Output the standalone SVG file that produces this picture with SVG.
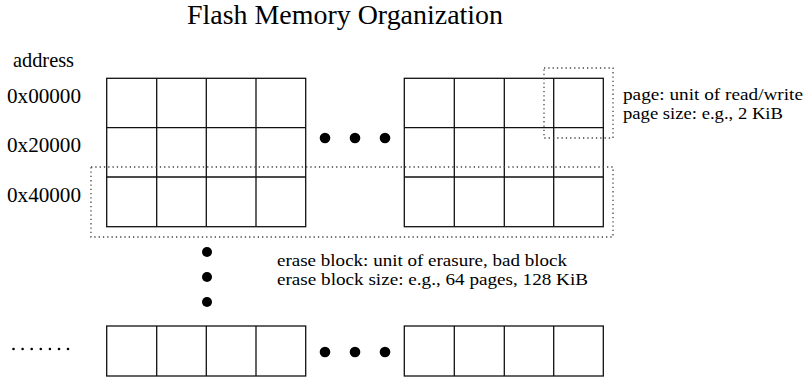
<svg xmlns="http://www.w3.org/2000/svg" width="811" height="377" viewBox="0 0 811 377">
  <style>
    text { font-family: "Liberation Serif", "Times New Roman", serif; fill: #000; }
    .title { font-size: 27px; }
    .addr { font-size: 21px; }
    .note { font-size: 17px; }
    .cell { fill: #fff; stroke: #111; stroke-width: 1.3; }
    .grid { fill: none; stroke: #111; stroke-width: 1.3; }
    .region { fill: none; stroke: #444; stroke-width: 1.3; stroke-dasharray: 1.3 3; }
    .dot { fill: #000; }
  </style>

  <text class="title" x="187" y="24" textLength="316" lengthAdjust="spacingAndGlyphs">Flash Memory Organization</text>

  <!-- address column -->
  <g id="addresses">
    <text class="addr" x="13" y="67" textLength="61" lengthAdjust="spacingAndGlyphs">address</text>
    <text class="addr" x="7" y="103" textLength="74" lengthAdjust="spacingAndGlyphs">0x00000</text>
    <text class="addr" x="7" y="152" textLength="74" lengthAdjust="spacingAndGlyphs">0x20000</text>
    <text class="addr" x="7" y="202" textLength="74" lengthAdjust="spacingAndGlyphs">0x40000</text>
  </g>

  <!-- first erase blocks, left part (3 rows x 4 pages) -->
  <g id="block-left">
    <rect class="cell" x="106.7" y="78.3" width="199" height="148.4"/>
    <path class="grid" d="M156.7 78.3V226.7M206.3 78.3V226.7M256 78.3V226.7M106.7 127.7H305.7M106.7 177H305.7"/>
  </g>

  <!-- first erase blocks, right part -->
  <g id="block-right">
    <rect class="cell" x="404.3" y="78.3" width="199" height="148.4"/>
    <path class="grid" d="M454.3 78.3V226.7M504.3 78.3V226.7M553.7 78.3V226.7M404.3 127.7H603.3M404.3 177H603.3"/>
  </g>

  <!-- last erase block row -->
  <g id="block-last-left">
    <rect class="cell" x="106.7" y="326" width="199" height="50"/>
    <path class="grid" d="M156.7 326V376M206.3 326V376M256 326V376"/>
  </g>
  <g id="block-last-right">
    <rect class="cell" x="404.3" y="326" width="199" height="50"/>
    <path class="grid" d="M454.3 326V376M504.3 326V376M553.7 326V376"/>
  </g>

  <!-- dotted outlines marking a page and an erase block -->
  <g id="page-outline">
    <rect class="region" x="544" y="68" width="69" height="70"/>
  </g>
  <g id="erase-block-outline">
    <rect class="region" x="91" y="167" width="522" height="70"/>
  </g>

  <!-- ellipsis marks -->
  <g id="ellipses">
    <circle class="dot" cx="325" cy="138" r="5.3"/>
    <circle class="dot" cx="355" cy="138" r="5.3"/>
    <circle class="dot" cx="385" cy="138" r="5.3"/>
    <circle class="dot" cx="207" cy="252" r="5"/>
    <circle class="dot" cx="207" cy="277" r="5"/>
    <circle class="dot" cx="207" cy="302" r="5"/>
    <circle class="dot" cx="325" cy="352" r="5.3"/>
    <circle class="dot" cx="355" cy="352" r="5.3"/>
    <circle class="dot" cx="385" cy="352" r="5.3"/>
    <circle class="dot" cx="13.5" cy="349" r="1.3"/>
    <circle class="dot" cx="22.6" cy="349" r="1.3"/>
    <circle class="dot" cx="31.7" cy="349" r="1.3"/>
    <circle class="dot" cx="40.8" cy="349" r="1.3"/>
    <circle class="dot" cx="49.9" cy="349" r="1.3"/>
    <circle class="dot" cx="59" cy="349" r="1.3"/>
    <circle class="dot" cx="68" cy="349" r="1.3"/>
  </g>

  <!-- notes -->
  <g id="page-note">
    <text class="note" x="623" y="100" textLength="180" lengthAdjust="spacingAndGlyphs">page: unit of read/write</text>
    <text class="note" x="623" y="118.5" textLength="160" lengthAdjust="spacingAndGlyphs">page size: e.g., 2 KiB</text>
  </g>
  <g id="erase-note">
    <text class="note" x="277" y="266" textLength="290" lengthAdjust="spacingAndGlyphs">erase block: unit of erasure, bad block</text>
    <text class="note" x="277" y="285" textLength="311" lengthAdjust="spacingAndGlyphs">erase block size: e.g., 64 pages, 128 KiB</text>
  </g>
</svg>
